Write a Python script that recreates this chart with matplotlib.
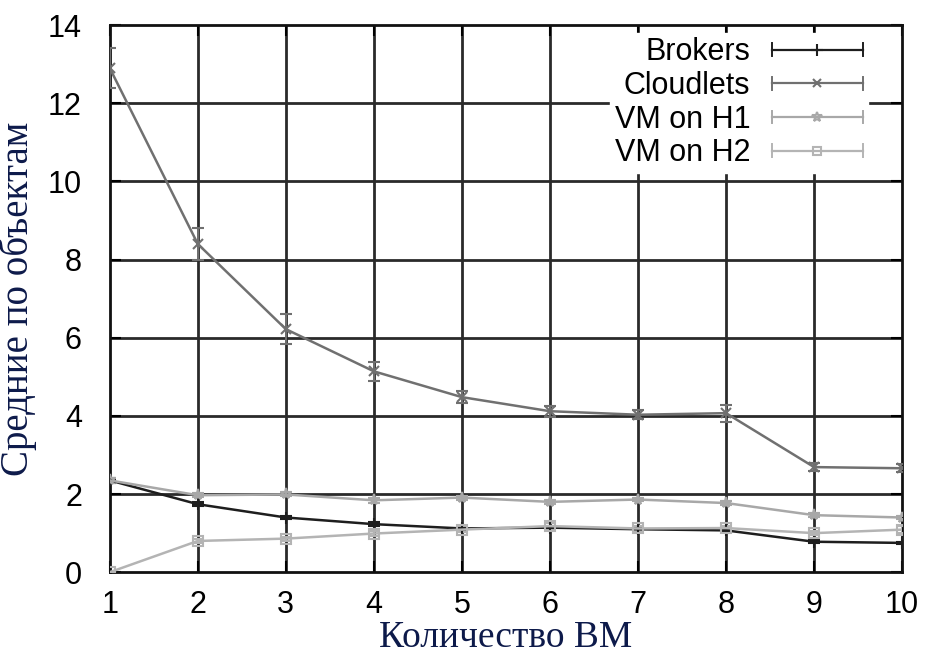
import matplotlib
matplotlib.use("Agg")
import matplotlib.pyplot as plt
from matplotlib.legend_handler import HandlerBase
from matplotlib.lines import Line2D

vm_count = [1, 2, 3, 4, 5, 6, 7, 8, 9, 10]

brokers = [2.35, 1.74, 1.40, 1.23, 1.12, 1.14, 1.10, 1.07, 0.78, 0.75]
brokers_err = [0.06, 0.05, 0.05, 0.06, 0.05, 0.05, 0.04, 0.04, 0.04, 0.03]

cloudlets = [12.9, 8.40, 6.22, 5.14, 4.48, 4.12, 4.03, 4.07, 2.69, 2.66]
cloudlets_err = [0.52, 0.42, 0.38, 0.25, 0.16, 0.14, 0.12, 0.22, 0.10, 0.10]

vm_h1 = [2.35, 1.97, 1.99, 1.84, 1.91, 1.80, 1.86, 1.77, 1.46, 1.40]
vm_h1_err = [0.06, 0.05, 0.05, 0.06, 0.05, 0.05, 0.05, 0.05, 0.05, 0.05]

vm_h2 = [0.0, 0.80, 0.86, 0.99, 1.09, 1.18, 1.12, 1.13, 1.00, 1.09]
vm_h2_err = [0.0, 0.05, 0.05, 0.06, 0.07, 0.07, 0.06, 0.06, 0.06, 0.08]

y_ticks = [0, 2, 4, 6, 8, 10, 12, 14]


class ErrorKeyHandler(HandlerBase):
    """Legend key: horizontal line with end caps and the point marker centred."""

    def create_artists(self, legend, orig_handle, xdescent, ydescent,
                       width, height, fontsize, trans):
        col = orig_handle.get_color()
        yc = height / 2 - ydescent
        x0, x1 = -xdescent, width - xdescent
        cap = height * 0.3
        arts = [
            Line2D([x0, x1], [yc, yc], color=col, lw=1.6),
            Line2D([x0, x0], [yc - cap, yc + cap], color=col, lw=1.4),
            Line2D([x1, x1], [yc - cap, yc + cap], color=col, lw=1.4),
            Line2D([(x0 + x1) / 2], [yc], color=col, marker=orig_handle.get_marker(),
                   ms=orig_handle.get_markersize(), mfc="none", mec=col, mew=1.5),
        ]
        for a in arts:
            a.set_transform(trans)
        return arts


fig = plt.figure(figsize=(9.3, 6.6), dpi=100)
ax = fig.add_axes([0.118, 0.133, 0.852, 0.829])

# grid drawn as heavy dark lines beneath the data
for yv in y_ticks[1:-1]:
    ax.axhline(yv, color="#2a2a2a", lw=2.0, zorder=1)
for xv in vm_count[1:-1]:
    ax.axvline(xv, color="#2a2a2a", lw=2.0, zorder=1)

series = [
    ("Brokers", brokers, brokers_err, "#1e1e1e", "+", 9),
    ("Cloudlets", cloudlets, cloudlets_err, "#707070", "x", 7),
    ("VM on H1", vm_h1, vm_h1_err, "#a8a8a8", "*", 8),
    ("VM on H2", vm_h2, vm_h2_err, "#b4b4b4", "s", 7),
]
keys = []
for label, vals, err, col, mk, ms in series:
    ax.errorbar(vm_count, vals, yerr=err, color=col, lw=1.8, marker=mk,
                ms=ms, mfc="none", mec=col, mew=1.5, capsize=4, elinewidth=1.4,
                capthick=1.4, zorder=3)
    keys.append(Line2D([], [], color=col, marker=mk, ms=ms - 1, label=label))

ax.set_xlim(1, 10)
ax.set_ylim(0, 14)
ax.set_xticks(vm_count)
ax.set_yticks(y_ticks)
ax.tick_params(direction="in", length=8, width=1.5, top=True, right=True,
               labelsize=22, colors="black")
ax.tick_params(axis="x", pad=13)
ax.tick_params(axis="y", pad=20)
for lab in ax.get_xticklabels() + ax.get_yticklabels():
    lab.set_family("Liberation Sans")
for sp in ax.spines.values():
    sp.set_linewidth(2.0)
    sp.set_color("#111111")

ax.set_xlabel("Количество ВМ", family="Liberation Serif", fontsize=27,
              color="#0d1a4a", labelpad=0)
ax.set_ylabel("Средние по объектам", family="Liberation Serif", fontsize=28,
              color="#0d1a4a", labelpad=8)

leg = ax.legend(handles=keys, loc="upper right", markerfirst=False,
                frameon=True, fancybox=False, framealpha=1.0,
                edgecolor="white", facecolor="white",
                handler_map={Line2D: ErrorKeyHandler()},
                handlelength=3.0, labelspacing=0.12, borderpad=0.15,
                handletextpad=0.7,
                prop={"family": "Liberation Sans", "size": 22},
                bbox_to_anchor=(0.976, 1.014))
leg.set_zorder(5)
fig.canvas.draw()
for t in leg.get_texts():
    t.set_ha("right")

fig.savefig("out.png", dpi=100)
